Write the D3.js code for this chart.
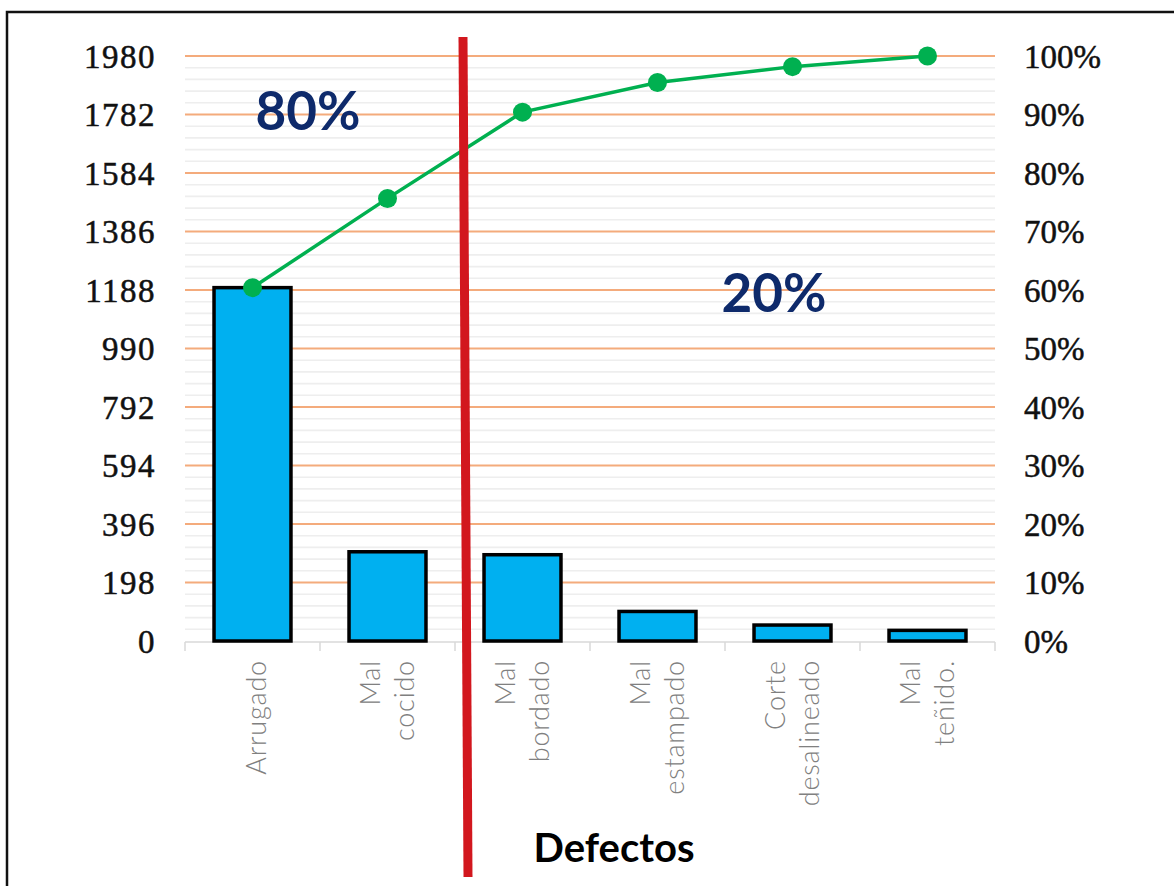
<!DOCTYPE html>
<html>
<head>
<meta charset="utf-8">
<script src="https://cdn.jsdelivr.net/npm/d3@7"></script>
<style>
  html, body { margin: 0; padding: 0; background: #fff; }
  svg { display: block; }
</style>
</head>
<body>
<svg id="chart" width="1174" height="886"></svg>
<script>
// Pareto of garment defects: counts per defect type plus cumulative share
const categories = [["Arrugado"], ["Mal", "cocido"], ["Mal", "bordado"], ["Mal", "estampado"], ["Corte", "desalineado"], ["Mal", "teñido."]];
const counts = [1196, 302, 292, 100, 54, 36];
const leftTicks = [0, 198, 396, 594, 792, 990, 1188, 1386, 1584, 1782, 1980];
const rightTicks = [0, 0.1, 0.2, 0.3, 0.4, 0.5, 0.6, 0.7, 0.8, 0.9, 1.0];
const axisTitle = "Defectos";
const splitLabels = ["80%", "20%"];

(function () {
  const svg = d3.select("#chart");
  const keys = categories.map(c => c.join(" "));
  const total = d3.sum(counts);
  const cumShare = Array.from(d3.cumsum(counts), v => v / total);

  const plotLeft = 185, plotRight = 995, plotTop = 56, plotBottom = 641;
  const x = d3.scaleBand().domain(keys).range([plotLeft, plotRight]).paddingInner(0.43).paddingOuter(0.215);
  const yL = d3.scaleLinear().domain([0, 1980]).range([plotBottom, plotTop]);
  const yR = d3.scaleLinear().domain([0, 1]).range([plotBottom, plotTop]);
  const cx = k => x(k) + x.bandwidth() / 2;

  // outer frame
  svg.append("path")
    .attr("d", "M7,890 L7,12 L1180,12")
    .attr("fill", "none").attr("stroke", "#111").attr("stroke-width", 2.5);

  // minor gridlines (five per major step)
  const minor = d3.range(0, 1980, 39.6).filter((v, i) => i % 5 !== 0);
  svg.append("g").selectAll("line").data(minor).join("line")
    .attr("x1", plotLeft).attr("x2", plotRight)
    .attr("y1", d => yL(d)).attr("y2", d => yL(d))
    .attr("stroke", "#eeeeee").attr("stroke-width", 1.6);

  // major gridlines
  svg.append("g").selectAll("line").data(leftTicks.filter(d => d > 0)).join("line")
    .attr("x1", plotLeft).attr("x2", plotRight)
    .attr("y1", d => yL(d)).attr("y2", d => yL(d))
    .attr("stroke", "#f4ab7c").attr("stroke-width", 2);

  // category axis: baseline and separators
  svg.append("line")
    .attr("x1", plotLeft).attr("x2", plotRight).attr("y1", plotBottom + 1).attr("y2", plotBottom + 1)
    .attr("stroke", "#d9d9d9").attr("stroke-width", 1.5);
  const step = x.step();
  svg.append("g").selectAll("line").data(d3.range(keys.length + 1)).join("line")
    .attr("x1", i => plotLeft + i * step).attr("x2", i => plotLeft + i * step)
    .attr("y1", plotBottom + 1).attr("y2", plotBottom + 10)
    .attr("stroke", "#d9d9d9").attr("stroke-width", 1.5);

  // bars
  svg.append("g").selectAll("rect").data(counts).join("rect")
    .attr("x", (d, i) => x(keys[i]))
    .attr("y", d => yL(d))
    .attr("width", x.bandwidth())
    .attr("height", d => plotBottom - yL(d))
    .attr("fill", "#00b0f0")
    .attr("stroke", "#000").attr("stroke-width", 3.5);

  // cumulative line
  const line = d3.line().x((d, i) => cx(keys[i])).y(d => yR(d));
  svg.append("path").datum(cumShare)
    .attr("d", line)
    .attr("fill", "none").attr("stroke", "#00b050").attr("stroke-width", 3.5);
  svg.append("g").selectAll("circle").data(cumShare).join("circle")
    .attr("cx", (d, i) => cx(keys[i])).attr("cy", d => yR(d)).attr("r", 9.5)
    .attr("fill", "#00b050");

  // left axis labels
  svg.append("g").selectAll("text").data(leftTicks).join("text")
    .attr("x", 156).attr("y", d => yL(d)).attr("dy", "0.36em")
    .attr("text-anchor", "end")
    .attr("font-family", "'Liberation Serif', serif").attr("font-size", 33)
    .attr("letter-spacing", 1.5)
    .attr("fill", "#111").attr("stroke", "#111").attr("stroke-width", 0.5)
    .text(d => d);

  // right axis labels
  svg.append("g").selectAll("text").data(rightTicks).join("text")
    .attr("x", 1024).attr("y", d => yR(d)).attr("dy", "0.36em")
    .attr("text-anchor", "start")
    .attr("font-family", "'Liberation Serif', serif").attr("font-size", 33)
    .attr("fill", "#111").attr("stroke", "#111").attr("stroke-width", 0.5)
    .text(d => d3.format(".0%")(d));

  // rotated category labels
  const lab = svg.append("g");
  categories.forEach((lines, i) => {
    const c = cx(keys[i]);
    const n = lines.length;
    lines.forEach((t, j) => {
      const bx = c + 9 + (j - (n - 1) / 2) * 34 + (n === 1 ? 4 : 0);
      lab.append("text")
        .attr("transform", `translate(${bx},660) rotate(-90)`)
        .attr("text-anchor", "end")
        .attr("font-family", "Lato, sans-serif").attr("font-weight", 300)
        .attr("font-size", 27).attr("letter-spacing", 0.8).attr("fill", "#808080")
        .text(t);
    });
  });

  // axis title
  svg.append("text")
    .attr("x", 614).attr("y", 862).attr("text-anchor", "middle")
    .attr("font-family", "Lato, sans-serif").attr("font-weight", 700)
    .attr("font-size", 40).attr("fill", "#000")
    .text(axisTitle);

  // 80/20 split marker between the second and third categories
  const split = plotLeft + 2 * step;
  svg.append("line")
    .attr("x1", split + 8).attr("y1", 37)
    .attr("x2", split + 13).attr("y2", 877)
    .attr("stroke", "#d2171e").attr("stroke-width", 9);

  svg.append("text")
    .attr("x", 308).attr("y", 130).attr("text-anchor", "middle")
    .attr("font-family", "Lato, sans-serif").attr("font-weight", 700)
    .attr("font-size", 53).attr("fill", "#0e2a6b")
    .text(splitLabels[0]);
  svg.append("text")
    .attr("x", 774).attr("y", 312).attr("text-anchor", "middle")
    .attr("font-family", "Lato, sans-serif").attr("font-weight", 700)
    .attr("font-size", 53).attr("fill", "#0e2a6b")
    .text(splitLabels[1]);
})();
</script>
</body>
</html>
